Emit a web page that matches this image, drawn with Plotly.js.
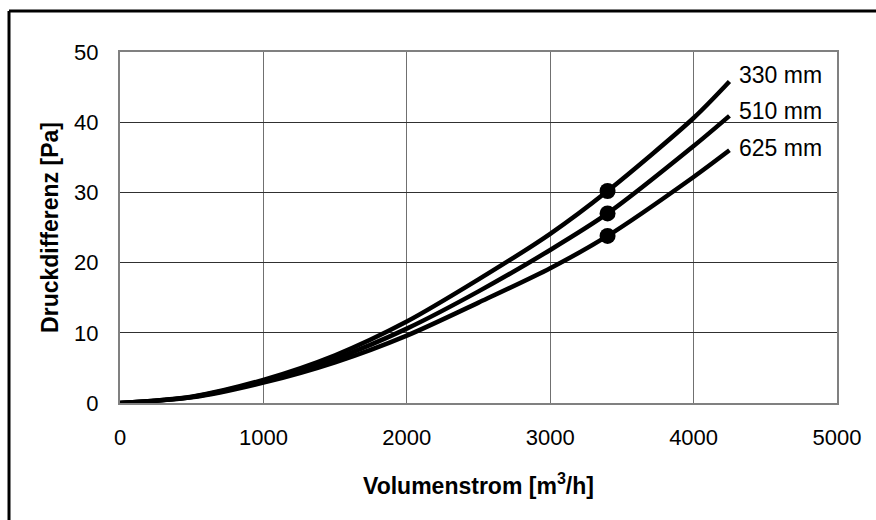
<!DOCTYPE html>
<html>
<head>
<meta charset="utf-8">
<script src="https://cdn.plot.ly/plotly-3.0.1.min.js"></script>
<style>html,body{margin:0;padding:0;background:#fff;}#chart{width:876px;height:520px;}</style>
</head>
<body>
<div id="chart"></div>
<script>
// Volumenstrom [m³/h]
const volumenstrom = [0, 500, 1000, 1500, 2000, 2500, 3000, 3400, 4000, 4250];
// Druckdifferenz [Pa] per diameter
const dp330 = [0, 0.9, 3.3, 6.8, 11.6, 17.6, 24.1, 30.2, 40.6, 45.8];
const dp510 = [0, 0.85, 3.1, 6.3, 10.6, 15.9, 21.8, 27.0, 36.6, 40.9];
const dp625 = [0, 0.8, 2.9, 5.8, 9.6, 14.3, 19.2, 23.8, 32.2, 36.0];
const seriesNames = ["330 mm", "510 mm", "625 mm"];
// operating points
const pointX = [3400, 3400, 3400];
const pointY = [30.2, 27.0, 23.8];
const xTicks = [0, 1000, 2000, 3000, 4000, 5000];
const yTicks = [0, 10, 20, 30, 40, 50];

const FONT = "Liberation Sans, Arial, sans-serif";
const allSeries = [dp330, dp510, dp625];

const traces = allSeries.map((ys, i) => ({
  x: volumenstrom, y: ys, type: "scatter", mode: "lines",
  name: seriesNames[i],
  line: {color: "#000", width: 4.5, shape: "spline", smoothing: 0.8},
  hoverinfo: "skip"
}));
traces.push({
  x: pointX, y: pointY, type: "scatter", mode: "markers",
  marker: {color: "#000", size: 16},
  hoverinfo: "skip"
});

const annotations = allSeries.map((ys, i) => ({
  x: volumenstrom[volumenstrom.length - 1], y: ys[ys.length - 1],
  xref: "x", yref: "y", text: seriesNames[i], showarrow: false,
  xanchor: "left", yanchor: "middle", xshift: 8, yshift: [6, 5, 2][i],
  font: {family: FONT, size: 23, color: "#000"}
}));

const layout = {
  width: 876, height: 520,
  margin: {l: 120, r: 39, t: 52, b: 117},
  paper_bgcolor: "#fff", plot_bgcolor: "#fff",
  showlegend: false,
  font: {family: FONT, size: 21, color: "#000"},
  xaxis: {
    range: [0, 5000], tickvals: xTicks, ticktext: xTicks.map(String),
    showgrid: true, gridcolor: "#707070", gridwidth: 1,
    zeroline: false, showline: true, linecolor: "#808080", linewidth: 2, mirror: true,
    ticks: "", ticklabelstandoff: 14,
    tickfont: {family: FONT, size: 22, color: "#000"},
    title: {text: "<b>Volumenstrom [m<sup>3</sup>/h]</b>", font: {family: FONT, size: 23, color: "#000"}, standoff: 28}
  },
  yaxis: {
    range: [0, 50], tickvals: yTicks, ticktext: yTicks.map(String),
    showgrid: true, gridcolor: "#303030", gridwidth: 1,
    zeroline: false, showline: true, linecolor: "#808080", linewidth: 2, mirror: true,
    ticks: "", ticklabelstandoff: 15,
    tickfont: {family: FONT, size: 22, color: "#000"},
    title: {text: "<b>Druckdifferenz [Pa]</b>", font: {family: FONT, size: 23, color: "#000"}, standoff: 9}
  },
  annotations: annotations,
  shapes: [
    {type: "line", xref: "paper", yref: "paper", x0: -0.1548, x1: 1.2, y0: 1.1168, y1: 1.1168, line: {color: "#000", width: 3}},
    {type: "line", xref: "paper", yref: "paper", x0: -0.1548, x1: -0.1548, y0: 1.1168, y1: -0.5, line: {color: "#000", width: 3}}
  ]
};

Plotly.newPlot("chart", traces, layout, {staticPlot: true, displayModeBar: false});
</script>
</body>
</html>
